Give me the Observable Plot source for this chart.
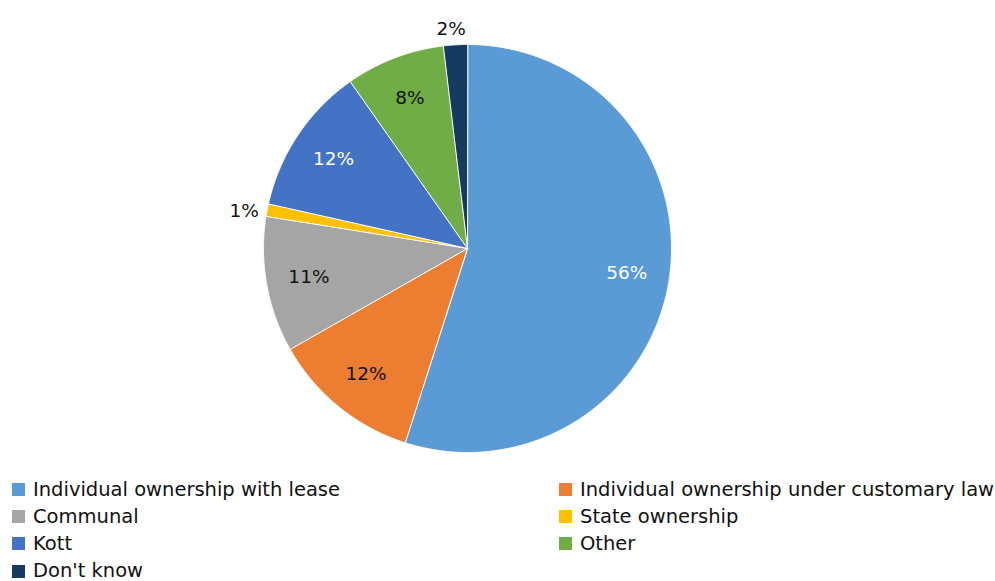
<!DOCTYPE html>
<html>
<head>
<meta charset="utf-8">
<script src="https://cdn.jsdelivr.net/npm/d3@7"></script>
<script src="https://cdn.jsdelivr.net/npm/@observablehq/plot@0.6"></script>
<style>
  body { margin: 0; background: #fff; font-family: "DejaVu Sans", sans-serif; overflow: hidden; }
  #chart svg { display: block; }
  #legend { display: grid; grid-template-columns: 547px auto; grid-auto-rows: 27.2px; padding-left: 12px; margin-top: 6px; font-size: 19.5px; line-height: 1; color: #111; }
  .item { display: flex; align-items: center; white-space: nowrap; }
  .sw { width: 13px; height: 13px; margin-right: 8px; flex: none; }
</style>
</head>
<body>
<div id="chart"></div>
<div id="legend"></div>
<script>
const categories = [
  "Individual ownership with lease",
  "Individual ownership under customary law",
  "Communal",
  "State ownership",
  "Kott",
  "Other",
  "Don't know"
];
const values = [55.2, 11.9, 10.8, 1.0, 11.8, 7.9, 1.9];
const valueLabels = ["56%", "12%", "11%", "1%", "12%", "8%", "2%"];
const colors = ["#5B9BD5", "#ED7D31", "#A5A5A5", "#FFC000", "#4472C4", "#70AD47", "#173A60"];
const labelColors = ["#fff", "#111", "#111", "#111", "#fff", "#111", "#111"];

const data = categories.map((c, i) => ({cat: c, value: values[i], label: valueLabels[i], color: colors[i], labelColor: labelColors[i]}));
const arcs = d3.pie().sort(null).value(d => d.value)(data);

const slices = arcs.map(a => {
  const pts = [{x: 0, y: 0}];
  const n = Math.max(2, Math.ceil((a.endAngle - a.startAngle) / 0.005));
  for (let k = 0; k <= n; k++) {
    const t = a.startAngle + (a.endAngle - a.startAngle) * k / n;
    pts.push({x: Math.sin(t), y: Math.cos(t)});
  }
  return {d: a.data, pts};
});

const labels = arcs.map(a => {
  const m = (a.startAngle + a.endAngle) / 2;
  const outside = a.data.value < 3;
  const rr = outside ? 1.1 : 0.79;
  return {x: rr * Math.sin(m), y: rr * Math.cos(m), label: a.data.label, fill: outside ? "#111" : a.data.labelColor, outside};
});

const plot = Plot.plot({
  width: 995,
  height: 470,
  margin: 0,
  x: {domain: [-1, 1], range: [263, 671], axis: null},
  y: {domain: [-1, 1], range: [452, 44], axis: null},
  marks: [
    ...slices.map(s => Plot.line(s.pts, {x: "x", y: "y", curve: "linear-closed", fill: s.d.color, stroke: "#fff", strokeWidth: 1})),
    Plot.text(labels.filter(d => !d.outside), {x: "x", y: "y", text: "label", fill: d => d.fill, fontSize: 18.5, fontFamily: "DejaVu Sans, sans-serif"}),
    Plot.text(labels.filter(d => d.outside), {x: "x", y: "y", dy: 5, dx: -3, text: "label", fill: d => d.fill, fontSize: 18.5, fontFamily: "DejaVu Sans, sans-serif"})
  ]
});
document.getElementById("chart").appendChild(plot);

const legend = document.getElementById("legend");
categories.forEach((c, i) => {
  const el = document.createElement("div");
  el.className = "item";
  el.innerHTML = `<span class="sw" style="background:${colors[i]}"></span><span>${c}</span>`;
  legend.appendChild(el);
});
</script>
</body>
</html>
